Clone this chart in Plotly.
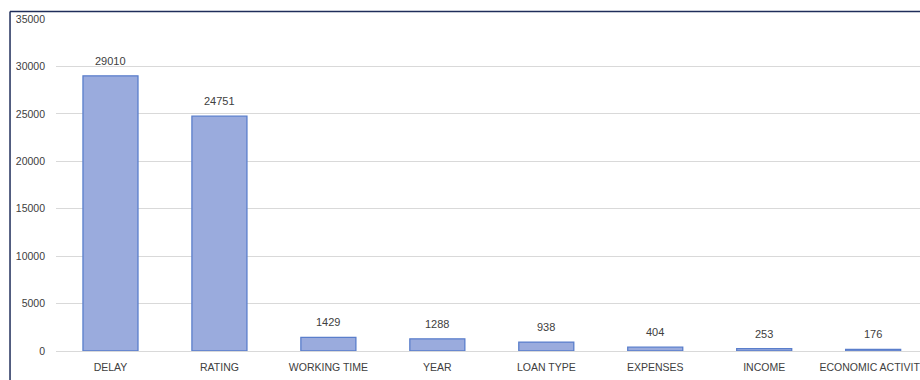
import plotly.graph_objects as go

categories = ["DELAY", "RATING", "WORKING TIME", "YEAR", "LOAN TYPE", "EXPENSES", "INCOME", "ECONOMIC ACTIVITY"]
values = [29010, 24751, 1429, 1288, 938, 404, 253, 176]
y_ticks = [0, 5000, 10000, 15000, 20000, 25000, 30000, 35000]

W, H = 920, 380
L, R, T, B = 55.5, 0, 19, 29  # plot area: x 55.5..920, y 19..351
FONT = "Liberation Sans, Arial"

fig = go.Figure(go.Bar(
    x=categories, y=values,
    marker=dict(color="#9AABDD", line=dict(color="#5A7ECB", width=1.3)),
    width=0.505,
    cliponaxis=False,
))

for c, v in zip(categories, values):
    fig.add_annotation(x=c, y=v, text=str(v), showarrow=False, yanchor="bottom",
                       yshift=7, font=dict(family=FONT, size=11, color="#404040"))

fig.update_layout(
    width=W, height=H,
    margin=dict(l=L, r=R, t=T, b=B, pad=0, autoexpand=False),
    paper_bgcolor="white", plot_bgcolor="white",
    showlegend=False,
    xaxis=dict(range=[-0.5, 7.43], showgrid=False, showline=False, ticks="", automargin=False,
               tickfont=dict(family=FONT, size=10.5, color="#404040"),
               ticklabelstandoff=8, fixedrange=True),
    yaxis=dict(range=[0, 35000], tickvals=y_ticks, ticktext=[str(t) for t in y_ticks],
               showgrid=True, gridcolor="#D9D9D9", automargin=False,
               gridwidth=1, zeroline=True, zerolinecolor="#D9D9D9", zerolinewidth=1,
               showline=False, ticks="",
               tickfont=dict(family=FONT, size=10.5, color="#404040"),
               ticklabelstandoff=10, fixedrange=True),
    shapes=[
        dict(type="line", xref="paper", yref="paper",
             x0=(9.5 - L) / (W - L), x1=1.05, y0=(H - B - 11.5) / (H - T - B), y1=(H - B - 11.5) / (H - T - B),
             line=dict(color="#1F2D5A", width=1.5)),
        dict(type="line", xref="paper", yref="paper",
             x0=(9.5 - L) / (W - L), x1=(9.5 - L) / (W - L),
             y0=(H - B - 11.5) / (H - T - B), y1=-0.2,
             line=dict(color="#1F2D5A", width=1.5)),
    ],
)

fig.write_html("out.html", config={"displayModeBar": False})
